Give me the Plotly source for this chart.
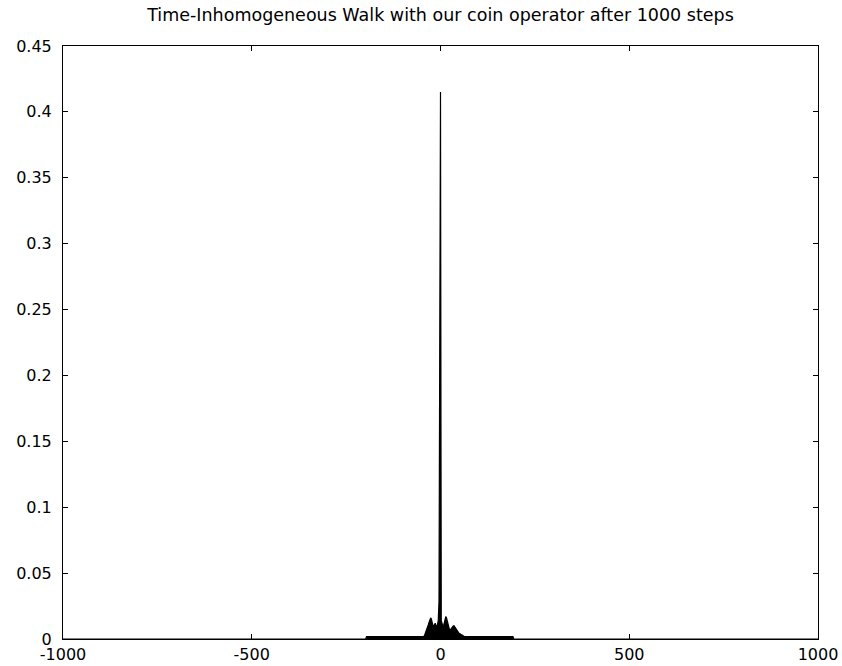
import plotly.graph_objects as go

# Probability distribution after 1000 steps (even lattice sites carry the mass)
positions = [-1000, -198, -196, -44,
             -42, -40, -38, -36, -34, -32, -30, -28, -26, -24, -22, -20, -18, -16,
             -14, -12, -10, -8, -6, -4, -2, 0, 2, 4, 6, 8, 10, 12, 14, 16, 18, 20,
             22, 24, 26, 28, 30, 32, 34, 36, 38, 40, 42, 44, 46, 48, 50, 52, 54, 56,
             58, 60, 62, 64, 192, 194, 1000]
probability = [0.0, 0.0, 0.0018, 0.0018,
               0.003, 0.005, 0.007, 0.009, 0.010, 0.011, 0.013, 0.015, 0.016, 0.015,
               0.012, 0.010, 0.010, 0.011, 0.012, 0.010, 0.010, 0.011, 0.014, 0.028,
               0.207, 0.415, 0.014, 0.011, 0.010, 0.010, 0.012, 0.015, 0.017, 0.016,
               0.013, 0.010, 0.008, 0.007, 0.007, 0.008, 0.009, 0.010, 0.010, 0.010,
               0.009, 0.008, 0.007, 0.006, 0.005, 0.005, 0.004, 0.004, 0.003, 0.003,
               0.003, 0.002, 0.002, 0.0018, 0.0018, 0.0, 0.0]

x_ticks = [-1000, -500, 0, 500, 1000]
y_ticks = [0, 0.05, 0.1, 0.15, 0.2, 0.25, 0.3, 0.35, 0.4, 0.45]
y_tick_text = ["0", "0.05", "0.1", "0.15", "0.2", "0.25", "0.3", "0.35", "0.4", "0.45"]

title_text = "Time-Inhomogeneous Walk with our coin operator after 1000 steps"

fig = go.Figure()
fig.add_trace(go.Scatter(
    x=positions, y=probability, mode="lines",
    line=dict(color="black", width=1.2),
    fill="tozeroy", fillcolor="black",
    hoverinfo="x+y", showlegend=False,
))

tick_font = dict(family="DejaVu Sans", size=16, color="black")

fig.update_layout(
    width=842, height=666,
    margin=dict(l=63, r=24, t=46, b=27, autoexpand=False),
    paper_bgcolor="white", plot_bgcolor="white",
    title=dict(text=title_text, x=0.5, xref="paper", xanchor="center",
               y=1 - 15 / 666, yref="container", yanchor="middle",
               font=dict(family="DejaVu Sans", size=17.5, color="black")),
    xaxis=dict(range=[-1000, 1000], tickvals=x_ticks, ticktext=[str(v) for v in x_ticks],
               ticks="inside", ticklen=5, tickcolor="black", showgrid=False, zeroline=False,
               showline=True, linecolor="black", linewidth=1, mirror="ticks",
               tickfont=tick_font, automargin=False, ticklabelstandoff=1),
    yaxis=dict(range=[0, 0.45], tickvals=y_ticks, ticktext=y_tick_text,
               ticks="inside", ticklen=5, tickcolor="black", showgrid=False, zeroline=False,
               showline=True, linecolor="black", linewidth=1, mirror="ticks",
               tickfont=tick_font, automargin=False, ticklabelstandoff=7),
)

fig.write_html("out.html", config={"displayModeBar": False},
               post_script="document.body.style.margin='0';")
